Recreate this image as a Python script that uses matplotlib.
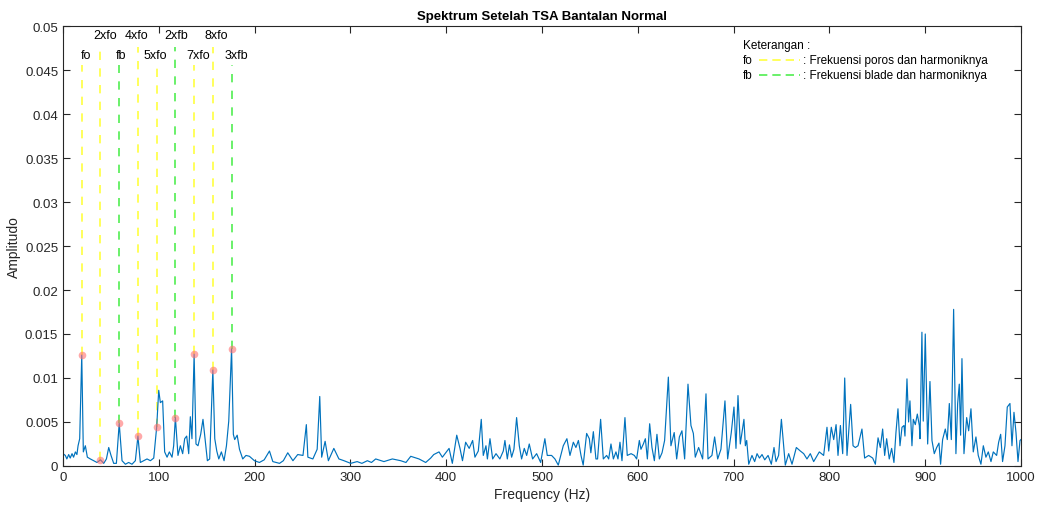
import numpy as np
import matplotlib
matplotlib.use('Agg')
import matplotlib.pyplot as plt

plt.rcParams['font.family'] = ['Liberation Sans', 'DejaVu Sans']

# spektrum (frekuensi Hz, amplitudo x1e-3)
freq = [0, 2.4, 4, 5.9, 7.5, 9.4, 11, 12.9, 14.5, 15.7, 17.4, 19.55, 21.2, 23.3, 25.4, 28.5, 32, 35.5, 39.1,
        42.5, 45.3, 47.7, 50.1, 52.9, 55.7, 58.65, 61.6, 65.1, 68.5, 72, 75.5, 78.2, 80.7, 84.2, 87.7, 91.2,
        94.7, 97.75, 99.9, 101.6, 104, 106.1, 108.6, 111, 113.8, 115.5, 117.3, 120, 122.5, 124.9, 127, 129.1,
        131.2, 132.9, 134.6, 136.85, 138.8, 140.9, 143.7, 146.1, 148.6, 150.7, 153.1, 156.4, 158.4, 160.5,
        162.6, 165.3, 168.1, 170.6, 173, 175.95, 177.8, 179.2, 181.8, 184.2, 187.6, 191, 194.6, 199.8, 205,
        210, 215.5, 219, 226, 230, 234.6, 240, 245, 250.5, 254, 255.6, 260.8, 265.3, 268, 270, 273.6, 277,
        282.7, 288, 293.3, 300.3, 307, 312, 317.7, 322, 326.4, 335, 343.8, 352.5, 358, 363, 371.6, 378.6,
        383.8, 387, 392.5, 396, 403, 406.4, 411, 414.4, 417, 420.3, 424, 427.6, 430, 433.5, 436.6, 438.7,
        441.5, 443, 445.7, 448.5, 452, 456, 459.6, 461.3, 463.8, 466, 468.3, 470.7, 473.5, 476.3, 478.7,
        481.5, 484, 486.7, 490.2, 494.4, 498.6, 503, 505.5, 510, 513.5, 517, 522.2, 526, 529.2, 532.7, 535.4,
        538, 540.7, 543, 546.6, 549.4, 551, 553.6, 556.3, 558, 561.2, 564, 567.5, 569.6, 572, 574.5, 577.2,
        579.3, 581.4, 583.5, 586.6, 589, 593, 596.4, 598.8, 601.6, 603.3, 605.8, 607.9, 610, 612.4, 614.8,
        617.3, 620, 622.5, 625.3, 628, 631.9, 634.6, 638, 640.6, 643.4, 646.1, 648.9, 652.4, 655.5, 658, 660,
        663.5, 667.7, 671.2, 673.3, 677.4, 680.2, 683.4, 686.8, 691, 693.8, 697.6, 700.4, 702.5, 704.6, 707,
        710.8, 712.3, 713.7, 715.8, 719.2, 722, 724.5, 727, 729.7, 732.5, 736, 739.4, 742.2, 744.3, 747,
        749.9, 752.3, 754, 757.5, 761, 765.5, 769.7, 773.2, 776.6, 780.1, 783.6, 789.5, 794, 797.5, 799.3,
        802, 804.5, 807, 809, 811.5, 813.9, 816, 818.4, 822.2, 824.7, 827.1, 829.9, 834, 836.8, 841, 845.2,
        848, 850.8, 853.2, 855.6, 857.7, 859.8, 862.5, 865, 867.4, 869.5, 871.6, 873.7, 875.8, 877.9, 878.9,
        881, 882.7, 884.1, 886.2, 887.6, 889.7, 891.8, 893.9, 894.6, 896.6, 898, 900.1, 902.6, 905, 907.1,
        909.5, 912, 914.4, 916.1, 918.2, 921, 923.1, 925.2, 927.3, 929.7, 932.1, 933.9, 935.6, 937, 938.4,
        940.5, 943.3, 945.4, 947.8, 950.2, 953, 955.4, 958.2, 960.7, 963.4, 965.9, 968.7, 971.1, 974.6,
        976.7, 978.8, 980.8, 983.3, 985.7, 988.5, 990.6, 992.7, 994.8, 996.9, 999, 1000]
amp = [1.4, 1.2, 0.8, 1.3, 0.9, 1.4, 1.0, 1.6, 1.3, 2.3, 3.1, 12.6, 1.6, 2.3, 1.0, 0.8, 0.6, 0.4, 0.7,
       0.3, 0.8, 2.1, 1.2, 0.3, 0.3, 4.85, 0.6, 0.2, 0.4, 0.2, 0.6, 3.4, 0.4, 0.6, 0.8, 0.6, 0.9, 4.4, 8.6,
       7.2, 7.4, 1.6, 1.0, 1.6, 1.0, 2.3, 5.5, 1.2, 2.3, 1.4, 3.1, 3.4, 1.4, 5.6, 3.1, 12.7, 2.5, 2.3, 3.6,
       5.3, 2.7, 0.6, 0.8, 10.9, 3.1, 1.7, 0.8, 1.6, 0.6, 2.3, 5.1, 13.3, 3.6, 3.0, 3.5, 1.9, 0.8, 1.2, 1.1,
       0.6, 0.4, 0.7, 1.7, 0.5, 0.3, 0.6, 1.5, 0.6, 1.3, 1.2, 4.7, 1.0, 0.8, 1.9, 7.9, 1.0, 2.8, 0.6, 2.0,
       0.8, 0.6, 0.3, 0.5, 0.3, 0.6, 0.4, 0.8, 0.5, 0.8, 0.6, 0.4, 1.1, 0.8, 0.4, 0.9, 1.3, 1.6, 1.0, 2.0,
       0.3, 3.5, 2.0, 0.6, 2.7, 2.0, 2.9, 1.0, 1.7, 5.3, 1.2, 2.3, 0.8, 3.1, 0.8, 1.4, 0.8, 1.7, 2.9, 0.8,
       2.4, 1.0, 1.9, 5.5, 2.3, 0.8, 2.0, 1.2, 2.5, 0.8, 1.4, 0.4, 3.1, 1.2, 1.2, 0.8, 0.1, 2.3, 3.1, 1.2,
       2.7, 2.1, 2.9, 1.2, 0.1, 3.7, 3.1, 1.5, 3.9, 0.8, 0.8, 5.3, 0.8, 1.2, 0.8, 2.5, 0.8, 1.6, 0.8, 2.7,
       0.6, 5.5, 1.2, 1.4, 1.2, 0.8, 2.9, 1.9, 2.5, 3.1, 0.8, 4.8, 2.1, 0.6, 3.6, 0.8, 1.5, 2.9, 10.1, 2.3,
       3.8, 0.8, 3.3, 4.0, 0.8, 9.3, 4.6, 3.7, 1.0, 2.1, 0.8, 8.2, 0.8, 1.2, 3.3, 0.8, 1.9, 7.4, 0.8, 3.8,
       6.7, 2.0, 8.0, 2.5, 5.3, 2.3, 2.9, 0.2, 1.2, 0.5, 1.4, 0.9, 1.3, 0.7, 1.2, 0.2, 2.1, 0.5, 1.2, 5.3,
       2.3, 0.1, 1.4, 0.2, 2.1, 1.7, 1.4, 0.8, 1.4, 0.5, 1.6, 1.2, 4.4, 1.7, 4.4, 3.0, 4.7, 1.2, 4.6, 1.4,
       10.0, 1.2, 7.0, 2.3, 2.1, 2.3, 4.2, 0.9, 1.2, 0.9, 0.2, 3.2, 2.1, 4.2, 1.2, 3.1, 0.8, 2.0, 0.4, 3.8,
       6.5, 2.3, 4.4, 4.6, 3.4, 9.9, 5.0, 7.4, 2.3, 5.3, 4.7, 5.9, 4.6, 3.1, 15.2, 5.1, 15.0, 2.5, 9.6, 2.9,
       1.4, 2.1, 2.6, 0.2, 3.0, 4.2, 3.0, 7.1, 3.0, 17.8, 1.4, 7.1, 9.3, 3.5, 12.2, 1.4, 5.5, 4.0, 6.5, 1.6,
       3.3, 1.2, 0.2, 2.3, 1.0, 1.6, 0.5, 1.6, 1.2, 2.7, 3.6, 0.5, 2.3, 6.7, 7.1, 2.3, 6.1, 3.8, 0.5, 2.9,
       3.0]

# harmonik dan label
fo = 19.55
harm_f = [fo, 2*fo, 3*fo, 4*fo, 5*fo, 6*fo, 7*fo, 8*fo, 9*fo]
harm_a = [12.6, 0.7, 4.85, 3.4, 4.4, 5.5, 12.7, 10.9, 13.3]
harm_lbl = ['fo', '2xfo', 'fb', '4xfo', '5xfo', '2xfb', '7xfo', '8xfo', '3xfb']
harm_kind = ['o', 'o', 'b', 'o', 'o', 'b', 'o', 'o', 'b']
lbl_x = [24, 43.8, 60.5, 76.5, 96, 118.6, 141.2, 160.4, 180.6]

yellow = '#ffff40'
green = '#50ee50'

fig = plt.figure(figsize=(10.4, 5.06), dpi=100)
ax = fig.add_axes([0.0606, 0.0771, 0.9211, 0.8695])

ax.plot(freq, np.array(amp) * 1e-3, color='#0072BD', lw=0.85)

for i in range(len(harm_f)):
    top = 0.0476 if i % 2 == 1 else 0.0456
    c = yellow if harm_kind[i] == 'o' else green
    ax.plot([harm_f[i], harm_f[i]], [harm_a[i] * 1e-3, top], ls=(0, (5, 5)), color=c, lw=1.2, zorder=1)
    ax.plot(harm_f[i], harm_a[i] * 1e-3, 'o', ms=5.5, color='#ff7070', alpha=0.6, mec='none', zorder=3)
    ty = 0.0490 if i % 2 == 1 else 0.0467
    ax.text(lbl_x[i], ty, harm_lbl[i], ha='center', va='center', fontsize=9)

# keterangan
ax.text(709.8, 0.0478, 'Keterangan :', fontsize=8.5, va='center')
ax.text(709.8, 0.0461, 'fo', fontsize=8.5, va='center')
ax.text(709.8, 0.0444, 'fb', fontsize=8.5, va='center')
ax.plot([726.5, 769.3], [0.0461, 0.0461], ls=(0, (5, 3)), color=yellow, lw=1.2)
ax.plot([726.5, 769.3], [0.0444, 0.0444], ls=(0, (5, 3)), color=green, lw=1.2)
ax.text(772.4, 0.0461, ': Frekuensi poros dan harmoniknya', fontsize=8.5, va='center')
ax.text(772.4, 0.0444, ': Frekuensi blade dan harmoniknya', fontsize=8.5, va='center')

ax.set_xlim(0, 1000)
ax.set_ylim(0, 0.05)
ax.set_xticks(np.arange(0, 1001, 100))
ax.set_yticks(np.arange(0, 0.0501, 0.005))
ax.set_yticklabels(['0', '0.005', '0.01', '0.015', '0.02', '0.025', '0.03', '0.035', '0.04', '0.045', '0.05'])
ax.tick_params(direction='in', top=True, right=True, labelsize=9.5, length=5, color='#262626', labelcolor='#262626')
for s in ax.spines.values():
    s.set_color('#262626')
    s.set_linewidth(0.8)
ax.set_xlabel('Frequency (Hz)', fontsize=10, color='#262626', labelpad=3)
ax.set_ylabel('Amplitudo', fontsize=10, color='#262626', labelpad=3)
ax.set_title('Spektrum Setelah TSA Bantalan Normal', fontsize=9.5, fontweight='bold', pad=5)

fig.savefig('out.png', dpi=100)
